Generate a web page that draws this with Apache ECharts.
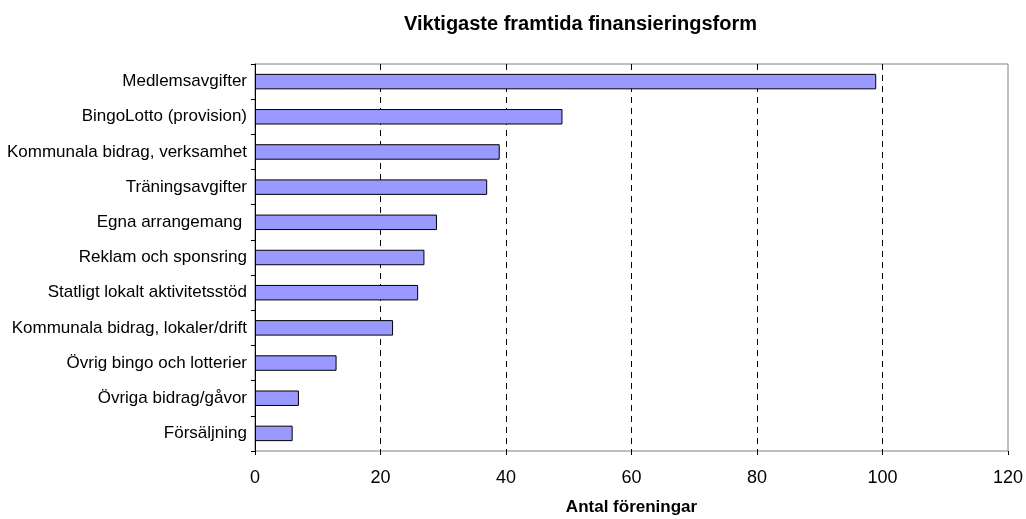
<!DOCTYPE html>
<html>
<head>
<meta charset="utf-8">
<script src="https://cdn.jsdelivr.net/npm/echarts@6/dist/echarts.min.js"></script>
<style>
  html, body { margin: 0; padding: 0; background: #fff; }
  #chart { width: 1026px; height: 519px; }
</style>
</head>
<body>
<div id="chart"></div>
<script>
// kategorier nerifrån och upp (kategoriaxeln ritas från botten)
var categories = [
    'Försäljning',
    'Övriga bidrag/gåvor',
    'Övrig bingo och lotterier',
    'Kommunala bidrag, lokaler/drift',
    'Statligt lokalt aktivitetsstöd',
    'Reklam och sponsring',
    'Egna arrangemang ',
    'Träningsavgifter',
    'Kommunala bidrag, verksamhet',
    'BingoLotto (provision)',
    'Medlemsavgifter'
];
var antal = [6, 7, 13, 22, 26, 27, 29, 37, 39, 49, 99];
var xTicks = [0, 20, 40, 60, 80, 100, 120];

var font = 'Liberation Sans, Arial, sans-serif';
var chart = echarts.init(document.getElementById('chart'));

chart.setOption({
    animation: false,
    title: {
        text: 'Viktigaste framtida finansieringsform',
        left: 399,
        top: 9,
        textStyle: { fontFamily: font, fontSize: 20, fontWeight: 'bold', color: '#000' }
    },
    grid: {
        left: 255, right: 18, top: 64, bottom: 68,
        outerBoundsMode: 'none',
        containLabel: false,
        show: true, borderColor: '#808080', borderWidth: 1, backgroundColor: '#fff'
    },
    xAxis: {
        type: 'value',
        min: xTicks[0],
        max: xTicks[xTicks.length - 1],
        interval: xTicks[1] - xTicks[0],
        name: 'Antal föreningar',
        nameLocation: 'middle',
        nameGap: 48,
        nameTextStyle: { fontFamily: font, fontSize: 17, fontWeight: 'bold', color: '#000' },
        axisLine: { lineStyle: { color: '#000' } },
        axisTick: { show: true, length: 4, lineStyle: { color: '#000' } },
        axisLabel: { fontFamily: font, fontSize: 18, color: '#000', margin: 18 },
        splitLine: { show: true, showMaxLine: false, showMinLine: false, lineStyle: { color: '#000', type: [6, 5] } }
    },
    yAxis: {
        type: 'category',
        data: categories,
        axisLine: { lineStyle: { color: '#000' } },
        axisTick: { show: true, length: 4, lineStyle: { color: '#000' } },
        axisLabel: { fontFamily: font, fontSize: 17, color: '#000', margin: 8 },
        splitLine: { show: false }
    },
    series: [{
        type: 'bar',
        data: antal,
        barWidth: '44%',
        itemStyle: { color: '#9999FF', borderColor: '#000', borderWidth: 1 }
    }]
});
</script>
</body>
</html>
